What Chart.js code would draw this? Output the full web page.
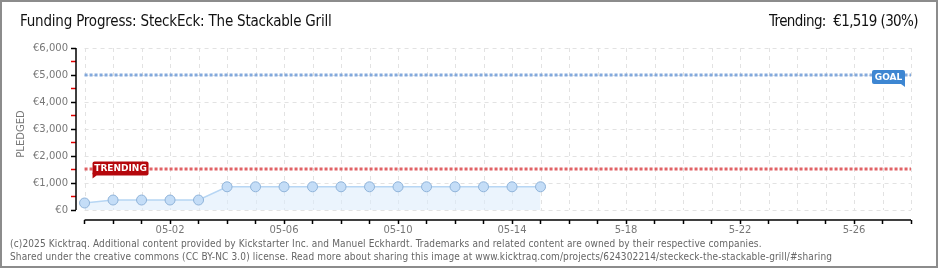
<!DOCTYPE html>
<html>
<head>
<meta charset="utf-8">
<script src="https://cdn.jsdelivr.net/npm/chart.js@4/dist/chart.umd.min.js"></script>
<style>
  html, body { margin: 0; padding: 0; background: #fff; }
  #wrap { position: relative; width: 940px; height: 270px; overflow: hidden; }
  #frame { position: absolute; left: 0; top: 0; width: 934px; height: 264px; border: 2px solid #8c8c8c; pointer-events: none; }
  canvas { position: absolute; left: 0; top: 0; }
  .head { position: absolute; top: 12px; font-family: "Liberation Sans Narrow", "DejaVu Sans Condensed", sans-serif; font-size: 15px; color: #111; white-space: nowrap; }
  #title { left: 20px; letter-spacing: -0.2px; }
  #trend { right: 22px; letter-spacing: -0.6px; }
  .foot { position: absolute; left: 10px; font-family: "DejaVu Sans Condensed", "DejaVu Sans", sans-serif; font-size: 10px; letter-spacing: 0.14px; color: #666; white-space: nowrap; }
</style>
</head>
<body>
<div id="wrap">
  <canvas id="chart" width="940" height="270"></canvas>
  <div class="head" id="title">Funding Progress: SteckEck: The Stackable Grill</div>
  <div class="head" id="trend">Trending:&nbsp; €1,519 (30%)</div>
  <div class="foot" style="top:238px">(c)2025 Kicktraq. Additional content provided by Kickstarter Inc. and Manuel Eckhardt. Trademarks and related content are owned by their respective companies.</div>
  <div class="foot" style="top:251px">Shared under the creative commons (CC BY-NC 3.0) license. Read more about sharing this image at www.kicktraq.com/projects/624302214/steckeck-the-stackable-grill/#sharing</div>
  <div id="frame"></div>
</div>
<script>
// days shown on the x axis, 04-29 .. 05-28
var days = ['04-29', '04-30', '05-01', '05-02', '05-03', '05-04', '05-05', '05-06', '05-07', '05-08',
  '05-09', '05-10', '05-11', '05-12', '05-13', '05-14', '05-15', '05-16', '05-17', '5-18',
  '05-19', '05-20', '05-21', '5-22', '05-23', '05-24', '05-25', '5-26', '05-27', '05-28'];
var labelDays = ['05-02', '05-06', '05-10', '05-14', '5-18', '5-22', '5-26'];

// y ticks: labelled every 1000, small red marks at the 500s
var yTicks = [0, 500, 1000, 1500, 2000, 2500, 3000, 3500, 4000, 4500, 5000, 5500, 6000];

// pledged per day (EUR), first 17 days
var pledged = [260, 370, 370, 370, 370, 860, 860, 860, 860, 860, 860, 860, 860, 860, 860, 860, 860];

var goal = 5000;
var trending = 1519;

var pledgedPts = pledged.map(function(v, i) { return {x: i, y: v}; });
var last = days.length - 1;
var yTop = yTicks[yTicks.length - 1];

// dashed grid + axis lines kept inside the data box, like the original
var frameGrid = {
	id: 'frameGrid',
	beforeDatasetsDraw: function(chart) {
		var ctx = chart.ctx, xs = chart.scales.x, ys = chart.scales.y;
		var x0 = xs.getPixelForValue(0), x1 = xs.getPixelForValue(last);
		var y0 = ys.getPixelForValue(0), y1 = ys.getPixelForValue(yTop);
		ctx.save();
		ctx.strokeStyle = '#e2e2e2';
		ctx.lineWidth = 1;
		ctx.setLineDash([4, 4]);
		ctx.beginPath();
		days.forEach(function(d, i) {
			var x = Math.round(xs.getPixelForValue(i)) + 0.5;
			ctx.moveTo(x, y1); ctx.lineTo(x, y0);
		});
		yTicks.forEach(function(v) {
			if (v % 1000) return;
			var y = Math.round(ys.getPixelForValue(v)) + 0.5;
			ctx.moveTo(x0, y); ctx.lineTo(x1, y);
		});
		ctx.stroke();
		ctx.restore();
	},
	afterDraw: function(chart) {
		var ctx = chart.ctx, xs = chart.scales.x, ys = chart.scales.y, a = chart.chartArea;
		ctx.save();
		ctx.strokeStyle = '#000';
		ctx.lineWidth = 1.5;
		ctx.beginPath();
		ctx.moveTo(a.left, ys.getPixelForValue(yTop));
		ctx.lineTo(a.left, ys.getPixelForValue(0));
		ctx.moveTo(xs.getPixelForValue(0), a.bottom);
		ctx.lineTo(xs.getPixelForValue(last), a.bottom);
		ctx.stroke();
		ctx.restore();
	}
};

var lineLabels = {
	id: 'lineLabels',
	afterDatasetsDraw: function(chart) {
		var ctx = chart.ctx, xs = chart.scales.x, ys = chart.scales.y;
		function tag(text, color, left, cy, w, tail) {
			var h = 14, top = cy - h / 2;
			ctx.save();
			ctx.fillStyle = color;
			ctx.beginPath();
			ctx.roundRect(left, top, w, h, 2);
			ctx.fill();
			ctx.beginPath();
			if (tail == 'left') {
				ctx.moveTo(left, top + h - 3); ctx.lineTo(left + 4, top + h); ctx.lineTo(left, top + h + 3);
			} else {
				ctx.moveTo(left + w, top + h - 3); ctx.lineTo(left + w - 4, top + h); ctx.lineTo(left + w, top + h + 3);
			}
			ctx.fill();
			ctx.fillStyle = '#fff';
			ctx.font = 'bold 9px "DejaVu Sans"';
			ctx.textAlign = 'center';
			ctx.textBaseline = 'middle';
			ctx.fillText(text, left + w / 2, cy + 0.5);
			ctx.restore();
		}
		tag('GOAL', '#3d86d2', xs.getPixelForValue(last) - 39, ys.getPixelForValue(goal) + 2, 33, 'right');
		tag('TRENDING', '#b5070c', xs.getPixelForValue(0) + 8, ys.getPixelForValue(trending) - 0.5, 56, 'left');
	}
};

new Chart(document.getElementById('chart').getContext('2d'), {
	type: 'line',
	data: {
		datasets: [{
			data: pledgedPts,
			borderColor: '#b7d6f4',
			borderWidth: 1.5,
			backgroundColor: 'rgba(222,236,251,0.6)',
			fill: 'origin',
			pointRadius: 5,
			pointBackgroundColor: '#c4ddf7',
			pointBorderColor: '#8fb3d9',
			pointBorderWidth: 1,
			order: 3
		}, {
			data: [{x: 0, y: goal}, {x: last, y: goal}],
			borderColor: 'rgba(110,155,215,0.85)',
			borderWidth: 3,
			borderDash: [3, 2],
			pointRadius: 0,
			fill: false,
			order: 1
		}, {
			data: [{x: 0, y: trending}, {x: last, y: trending}],
			borderColor: 'rgba(220,70,75,0.85)',
			borderWidth: 3,
			borderDash: [3, 2],
			pointRadius: 0,
			fill: false,
			order: 2
		}]
	},
	options: {
		responsive: false,
		animation: false,
		layout: { padding: { top: 48, right: 29, bottom: 30, left: 0 } },
		plugins: { legend: { display: false }, tooltip: { enabled: false } },
		scales: {
			x: {
				type: 'linear',
				min: -0.3,
				max: last,
				afterFit: function(s) { s.height = 20; },
				afterBuildTicks: function(s) {
					s.ticks = days.map(function(d, i) { return {value: i}; });
				},
				ticks: {
					autoSkip: false,
					maxRotation: 0,
					padding: 0,
					color: '#777',
					font: { family: 'DejaVu Sans', size: 10 },
					callback: function(v) {
						var d = days[v];
						return labelDays.indexOf(d) >= 0 ? d : '';
					}
				},
				grid: { drawOnChartArea: false, tickColor: '#000', tickLength: 4, tickWidth: 1.5 },
				border: { display: false }
			},
			y: {
				min: -370,
				max: 6000,
				afterFit: function(s) { s.width = 76; },
				afterBuildTicks: function(s) {
					s.ticks = yTicks.map(function(v) { return {value: v}; });
				},
				ticks: {
					autoSkip: false,
					padding: 3,
					color: '#777',
					font: { family: 'DejaVu Sans', size: 10 },
					callback: function(v) {
						return v % 1000 ? '' : '€' + v.toLocaleString('en-US');
					}
				},
				title: {
					display: true,
					text: 'PLEDGED',
					color: '#777',
					font: { family: 'DejaVu Sans', size: 10 },
					padding: { top: 15, bottom: 0 }
				},
				grid: {
					drawOnChartArea: false,
					tickColor: function(c) { return c.tick && c.tick.value % 1000 ? '#e00000' : '#000'; },
					tickLength: 5,
					tickWidth: 1.5
				},
				border: { display: false }
			}
		}
	},
	plugins: [frameGrid, lineLabels]
});
</script>
</body>
</html>
